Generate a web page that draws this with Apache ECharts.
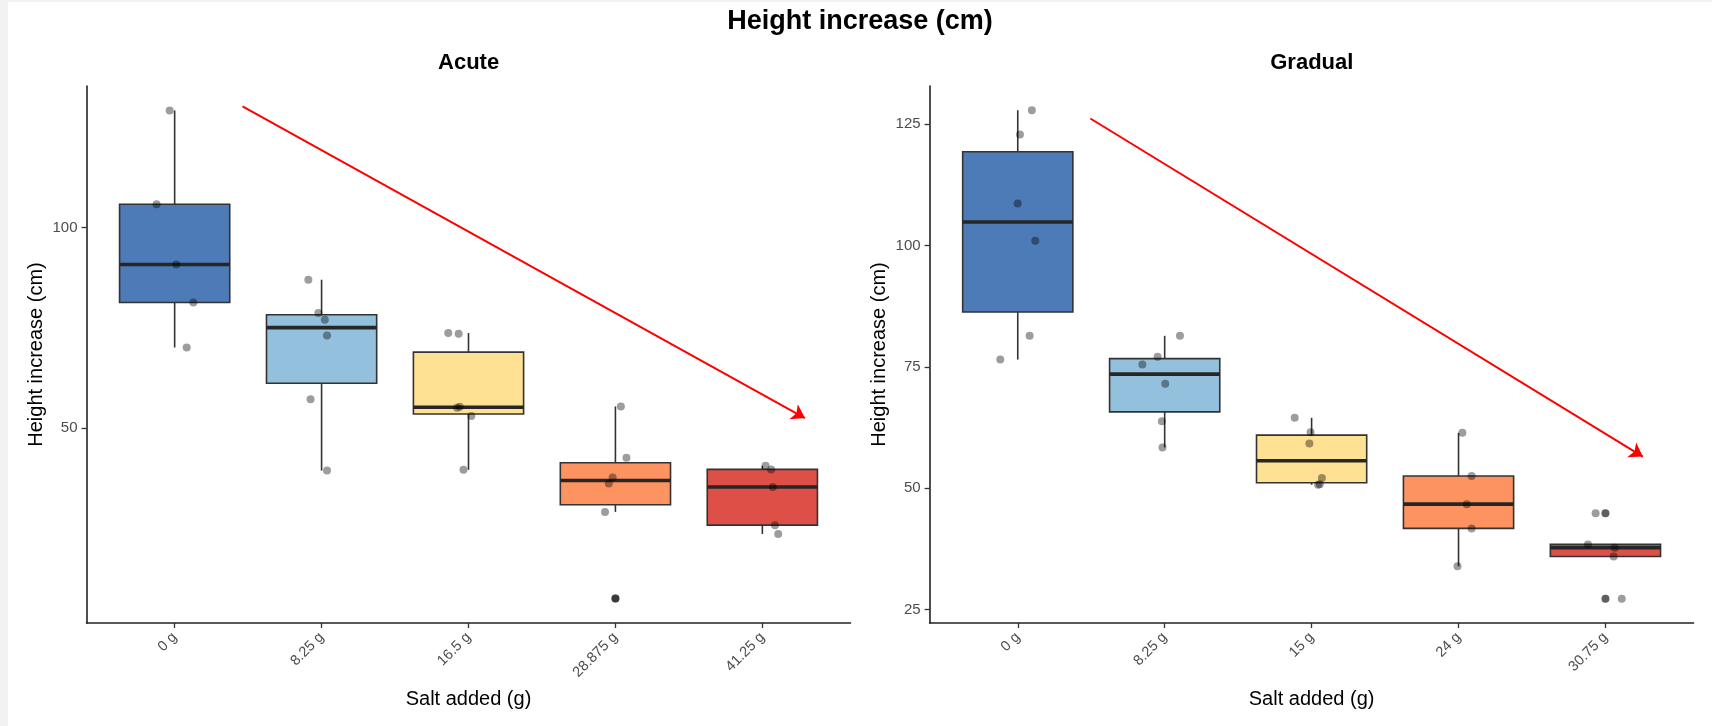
<!DOCTYPE html>
<html><head><meta charset="utf-8">
<script src="https://cdn.jsdelivr.net/npm/echarts@6/dist/echarts.min.js"></script>
<style>html,body{margin:0;padding:0;background:#fff;}#c{width:1712px;height:726px;}</style>
</head><body><div id="c"></div>
<script>
// ---- data ----
const acuteCats = ['0 g', '8.25 g', '16.5 g', '28.875 g', '41.25 g'];
const gradualCats = ['0 g', '8.25 g', '15 g', '24 g', '30.75 g'];
const acuteValues = [
  [129.2, 105.8, 90.8, 81.3, 70.1],
  [87.0, 78.7, 77.0, 73.1, 57.2, 39.4],
  [73.7, 73.5, 55.1, 55.3, 53.0, 39.6],
  [55.4, 42.6, 37.7, 36.2, 29.1, 7.5],
  [40.6, 39.7, 35.3, 25.8, 23.6]
];
const acuteJitter = [
  [-0.034, -0.123, 0.011, 0.127, 0.082],
  [-0.090, -0.022, 0.022, 0.037, -0.075, 0.037],
  [-0.138, -0.067, -0.078, -0.060, 0.019, -0.034],
  [0.037, 0.075, -0.019, -0.045, -0.071, 0.0],
  [0.022, 0.060, 0.071, 0.086, 0.108]
];
const gradualValues = [
  [127.9, 122.9, 108.7, 101.0, 81.4, 76.5],
  [81.4, 77.1, 75.5, 71.5, 63.8, 58.4],
  [64.5, 61.5, 59.2, 52.1, 50.8, 50.7],
  [61.4, 52.5, 46.7, 41.7, 33.9],
  [44.8, 38.4, 37.7, 35.9, 27.2]
];
const gradualJitter = [
  [0.096, 0.015, 0.0, 0.119, 0.081, -0.119],
  [0.104, -0.048, -0.152, 0.004, -0.019, -0.015],
  [-0.115, -0.007, -0.015, 0.070, 0.056, 0.044],
  [0.026, 0.089, 0.056, 0.089, -0.007],
  [-0.067, -0.119, 0.063, 0.056, 0.111]
];
const acuteYTicks = [50, 100];
const gradualYTicks = [25, 50, 75, 100, 125];
const acuteYRange = [1.4, 135.3];
const gradualYRange = [22.2, 132.9];
const acuteArrow = [[1.462, 130.2], [5.29, 52.5]];
const gradualArrow = [[1.494, 126.2], [5.254, 56.5]];
const boxColors = ['rgba(66,116,180,0.95)', 'rgba(145,191,219,0.98)', 'rgba(254,224,144,0.98)', 'rgba(252,141,89,0.95)', 'rgba(215,48,39,0.85)'];

// ---- helpers ----
const FONT = '"Liberation Sans", Arial, Helvetica, sans-serif';
function quant(s, p) {
  const h = (s.length - 1) * p, lo = Math.floor(h), hi = Math.ceil(h);
  return s[lo] + (h - lo) * (s[hi] - s[lo]);
}
function stats(vals) {
  const s = vals.slice().sort((a, b) => a - b);
  const q1 = quant(s, 0.25), m = quant(s, 0.5), q3 = quant(s, 0.75), iqr = q3 - q1;
  const inl = s.filter(v => v >= q1 - 1.5 * iqr && v <= q3 + 1.5 * iqr);
  const out = s.filter(v => v < q1 - 1.5 * iqr || v > q3 + 1.5 * iqr);
  return { low: Math.min(...inl), q1, m, q3, high: Math.max(...inl), out };
}
function renderBox(params, api) {
  const x = api.value(0), hw = 0.375;
  const pLow = api.coord([x, api.value(1)]);
  const pQ1 = api.coord([x, api.value(2)]);
  const pM = api.coord([x, api.value(3)]);
  const pQ3 = api.coord([x, api.value(4)]);
  const pHigh = api.coord([x, api.value(5)]);
  const left = api.coord([x - hw, api.value(3)])[0];
  const right = api.coord([x + hw, api.value(3)])[0];
  const col = boxColors[api.value(6)];
  const ls = { stroke: '#333', lineWidth: 1.6 };
  return { type: 'group', children: [
    { type: 'line', shape: { x1: pHigh[0], y1: pHigh[1], x2: pQ3[0], y2: pQ3[1] }, style: ls },
    { type: 'line', shape: { x1: pQ1[0], y1: pQ1[1], x2: pLow[0], y2: pLow[1] }, style: ls },
    { type: 'rect', shape: { x: left, y: pQ3[1], width: right - left, height: pQ1[1] - pQ3[1] }, style: { fill: col, stroke: '#333', lineWidth: 1.6 } },
    { type: 'line', shape: { x1: left, y1: pM[1], x2: right, y2: pM[1] }, style: { stroke: '#262626', lineWidth: 3.6 } }
  ] };
}
function panelSeries(idx, cats, values, jitter, arrow) {
  const boxData = [], outData = [], ptData = [];
  values.forEach((vals, i) => {
    const st = stats(vals);
    boxData.push([i + 1, st.low, st.q1, st.m, st.q3, st.high, i]);
    st.out.forEach(v => outData.push([i + 1, v]));
    vals.forEach((v, j) => ptData.push([i + 1 + jitter[i][j], v]));
  });
  return [
    { type: 'custom', xAxisIndex: idx, yAxisIndex: idx, renderItem: renderBox, data: boxData,
      dimensions: ['x', 'low', 'q1', 'm', 'q3', 'high', 'c'], encode: { x: 0, y: [1, 2, 3, 4, 5] }, z: 2, silent: true },
    { type: 'scatter', xAxisIndex: idx, yAxisIndex: idx, data: outData, symbolSize: 8,
      itemStyle: { color: 'rgba(20,20,20,0.85)' }, z: 3, silent: true },
    { type: 'scatter', xAxisIndex: idx, yAxisIndex: idx, data: ptData, symbolSize: 8,
      itemStyle: { color: 'rgba(0,0,0,0.48)' }, z: 4, silent: true,
      markLine: { silent: true, symbol: ['none', 'arrow'], symbolSize: 13, label: { show: false },
        lineStyle: { color: '#ff0000', width: 2, type: 'solid' }, emphasis: { disabled: true },
        data: [[{ coord: arrow[0] }, { coord: arrow[1] }]] } }
  ];
}
function xAxisOf(idx, cats, name) {
  return { type: 'value', gridIndex: idx, min: 0.4, max: 5.6, name: name, nameLocation: 'middle', nameGap: 66,
    nameTextStyle: { fontFamily: FONT, fontSize: 20, color: '#000' },
    axisLine: { show: true, onZero: false, lineStyle: { color: '#222', width: 1.6 } },
    axisTick: { show: true, customValues: [1, 2, 3, 4, 5], length: 5, lineStyle: { color: '#333', width: 1.3 } },
    axisLabel: { customValues: [1, 2, 3, 4, 5], rotate: 45, margin: 12, fontFamily: FONT, fontSize: 14.5, color: '#4d4d4d',
      formatter: v => cats[Math.round(v) - 1] || '' },
    splitLine: { show: false } };
}
function yAxisOf(idx, range, ticks, name) {
  return { type: 'value', gridIndex: idx, min: range[0], max: range[1], name: name, nameLocation: 'middle', nameGap: 40,
    nameTextStyle: { fontFamily: FONT, fontSize: 20, color: '#000' },
    axisLine: { show: true, onZero: false, lineStyle: { color: '#222', width: 1.6 } },
    axisTick: { show: true, customValues: ticks, length: 5, lineStyle: { color: '#333', width: 1.3 } },
    axisLabel: { customValues: ticks, margin: 9, fontFamily: FONT, fontSize: 15, color: '#4d4d4d' },
    splitLine: { show: false } };
}

const chart = echarts.init(document.getElementById('c'), null, { renderer: 'canvas' });
chart.setOption({
  animation: false,
  backgroundColor: '#ffffff',
  grid: [
    { left: 86.5, top: 86, width: 764, height: 537 },
    { left: 929.6, top: 86, width: 764, height: 537 }
  ],
  xAxis: [xAxisOf(0, acuteCats, 'Salt added (g)'), xAxisOf(1, gradualCats, 'Salt added (g)')],
  yAxis: [yAxisOf(0, acuteYRange, acuteYTicks, 'Height increase (cm)'), yAxisOf(1, gradualYRange, gradualYTicks, 'Height increase (cm)')],
  graphic: [
    { type: 'rect', left: 0, top: 0, shape: { width: 8, height: 726 }, style: { fill: '#f2f2f2' }, silent: true },
    { type: 'rect', left: 0, top: 0, shape: { width: 1712, height: 2 }, style: { fill: '#f2f2f2' }, silent: true },
    { type: 'text', x: 860, y: 22, style: { text: 'Height increase (cm)', font: 'bold 27px ' + FONT, fill: '#000', align: 'center', verticalAlign: 'middle' } },
    { type: 'text', x: 468.6, y: 63, style: { text: 'Acute', font: 'bold 22px ' + FONT, fill: '#000', align: 'center', verticalAlign: 'middle' } },
    { type: 'text', x: 1311.8, y: 63, style: { text: 'Gradual', font: 'bold 22px ' + FONT, fill: '#000', align: 'center', verticalAlign: 'middle' } }
  ],
  series: [].concat(
    panelSeries(0, acuteCats, acuteValues, acuteJitter, acuteArrow),
    panelSeries(1, gradualCats, gradualValues, gradualJitter, gradualArrow)
  )
});
</script></body></html>
